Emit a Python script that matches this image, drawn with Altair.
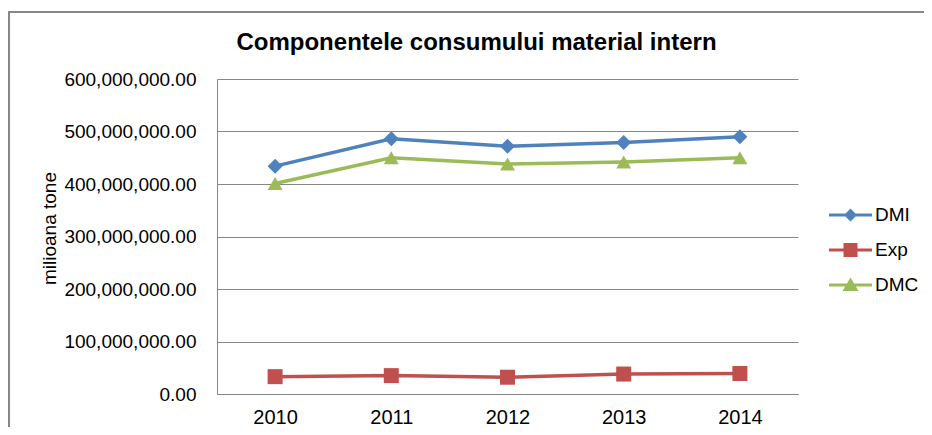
import altair as alt
import pandas as pd

years = ["2010", "2011", "2012", "2013", "2014"]
series_names = ["DMI", "Exp", "DMC"]
dmi = [434e6, 486e6, 472e6, 479e6, 490e6]
exp_ = [33e6, 35e6, 32e6, 38e6, 39e6]
dmc = [401e6, 450e6, 438e6, 442e6, 450e6]
y_ticks = [0, 1e8, 2e8, 3e8, 4e8, 5e8, 6e8]
chart_title = "Componentele consumului material intern"

colors = ["#4F81BD", "#C0504D", "#9BBB59"]
shapes = ["diamond", "square", "triangle-up"]
marker_sizes = [225, 225, 330]
legend_paths = [
    "M-2.15,-0.15H2.15V0.15H-2.15Z M0,-0.65L0.65,0L0,0.65L-0.65,0Z",
    "M-2.15,-0.15H2.15V0.15H-2.15Z M-0.7,-0.7H0.7V0.7H-0.7Z",
    "M-2.15,-0.15H2.15V0.15H-2.15Z M0,-0.75L0.8,0.6H-0.8Z",
]

rows = []
for name, vals in zip(series_names, [dmi, exp_, dmc]):
    for yr, v in zip(years, vals):
        rows.append({"year": yr, "series": name, "value": v})
df = pd.DataFrame(rows)

W, H = 581, 315
FONT = "Liberation Sans"

x_enc = alt.X("year:O", scale=alt.Scale(type="point", padding=0.5), title=None,
              axis=alt.Axis(labelAngle=0, ticks=False, grid=False, domainColor="#868686",
                            labelFontSize=20, labelFont=FONT, labelColor="#000000",
                            labelPadding=13))
y_enc = alt.Y("value:Q", scale=alt.Scale(domain=[0, 6e8]), title="milioana tone",
              axis=alt.Axis(values=y_ticks, format=",.2f", ticks=False, grid=True,
                            gridColor="#868686", domainColor="#868686",
                            labelFontSize=19, labelFont=FONT, labelColor="#000000",
                            labelPadding=21, titleFont=FONT, titleFontSize=19,
                            titleFontWeight="normal", titleColor="#000000",
                            titleAngle=-90, titleX=-162, titleY=149,
                            titleBaseline="alphabetic", titleAlign="center"))

base = alt.Chart(df)

lines = base.mark_line(strokeWidth=3.5).encode(
    x=x_enc, y=y_enc,
    color=alt.Color("series:N", scale=alt.Scale(domain=series_names, range=colors), legend=None),
    detail="series:N",
)

points = base.mark_point(filled=True, opacity=1).encode(
    x=x_enc, y=y_enc,
    color=alt.Color("series:N", scale=alt.Scale(domain=series_names, range=colors), legend=None),
    shape=alt.Shape("series:N", scale=alt.Scale(domain=series_names, range=shapes), legend=None),
    size=alt.Size("series:N", scale=alt.Scale(domain=series_names, range=marker_sizes), legend=None),
)

legend_layer = base.mark_point(filled=True, opacity=1).encode(
    x=x_enc, y=y_enc,
    color=alt.Color("series:N", scale=alt.Scale(domain=series_names, range=colors),
                    legend=alt.Legend(title=None, orient="none", legendX=623.5, legendY=126,
                                      symbolSize=400, symbolStrokeWidth=0, symbolOpacity=1,
                                      labelFont=FONT, labelFontSize=19, labelColor="#000000",
                                      labelOffset=14.5, rowPadding=15, padding=0)),
    shape=alt.Shape("series:N", scale=alt.Scale(domain=series_names, range=legend_paths)),
).transform_filter("false")

one = alt.Data(values=[{"t": chart_title}])
title_mark = alt.Chart(one).mark_text(font=FONT, fontSize=24, fontWeight="bold", color="#000000",
                                      align="center", baseline="alphabetic").encode(
    text="t:N", x=alt.value(259.5), y=alt.value(-29))
top_border = alt.Chart(one).mark_rule(strokeWidth=2, color="#878787").encode(
    x=alt.value(-208), x2=alt.value(W + 126), y=alt.value(-67))
left_border = alt.Chart(one).mark_rule(strokeWidth=2, color="#878787").encode(
    x=alt.value(-208), y=alt.value(-68), y2=alt.value(H + 40))

chart = alt.layer(lines, points, legend_layer, title_mark, top_border, left_border).resolve_scale(
    color="independent", shape="independent", size="independent"
).properties(
    width=W, height=H,
    autosize=alt.AutoSizeParams(type="none"),
    padding={"left": 209, "top": 71, "right": 126, "bottom": 33},
).configure_view(stroke=None)

chart.save("out.html", embed_options={"renderer": "svg", "actions": False})
